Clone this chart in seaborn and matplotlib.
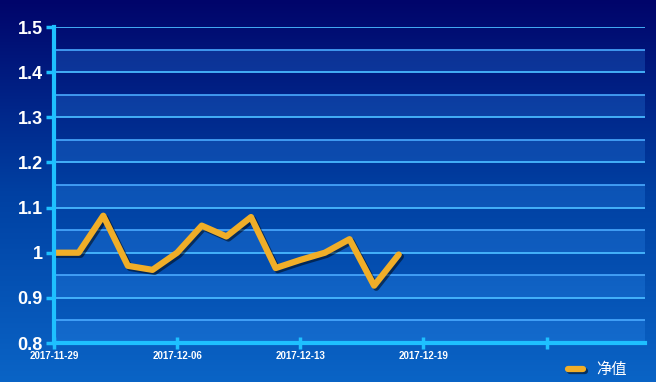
import numpy as np
import pandas as pd
import seaborn as sns
import matplotlib.pyplot as plt
import matplotlib.patheffects as pe
from matplotlib.colors import LinearSegmentedColormap

# data
day_index = [0, 1, 2, 3, 4, 5, 6, 7, 8, 9, 10, 11, 12, 13, 14]
net_value = [1.0, 1.0, 1.082, 0.971, 0.962, 1.0, 1.06, 1.036, 1.079,
             0.966, 0.984, 1.0, 1.03, 0.927, 0.996]
tick_pos = [0, 5, 10, 15, 20]
tick_labels = ['2017-11-29', '2017-12-06', '2017-12-13', '2017-12-19', '']
y_ticks = [0.8, 0.9, 1.0, 1.1, 1.2, 1.3, 1.4, 1.5]
y_tick_labels = ['0.8', '0.9', '1', '1.1', '1.2', '1.3', '1.4', '1.5']

df = pd.DataFrame({'day': day_index, '净值': net_value})

sns.set_style('white')
plt.rcParams['font.family'] = ['Liberation Sans', 'Noto Sans CJK SC', 'DejaVu Sans']

fig = plt.figure(figsize=(6.56, 3.82), dpi=100)

# background gradient
bg = fig.add_axes([0, 0, 1, 1], zorder=0)
cmap = LinearSegmentedColormap.from_list('bg', ['#00046a', '#0040a2', '#0a64c6'])
grad = np.linspace(0, 1, 256).reshape(-1, 1)
bg.imshow(grad, aspect='auto', cmap=cmap, extent=[0, 1, 0, 1], origin='upper')
bg.axis('off')

ax = fig.add_axes([54/656, 1-343/382, (645-54)/656, (343-27)/382], zorder=1)
ax.patch.set_alpha(0)
ax.set_xlim(0, 24)
ax.set_ylim(0.8, 1.5)

# lighter bands between grid lines
for lo in np.arange(0.8, 1.45, 0.1):
    ax.axhspan(lo, lo + 0.05, color='#3a9cff', alpha=0.22, lw=0, zorder=0)
for y in np.arange(0.85, 1.5, 0.1):
    ax.axhline(y, color='#4aaaff', lw=1.2, zorder=1)
for y in y_ticks:
    ax.axhline(y, color='#48b8ff', lw=1.3, zorder=1)

sns.lineplot(data=df, x='day', y='净值', ax=ax, color='#f0ae28', lw=4.5,
             label='净值', zorder=3,
             path_effects=[pe.SimpleLineShadow(offset=(1.5, -1.5), alpha=0.5),
                           pe.Normal()])

for s in ['top', 'right']:
    ax.spines[s].set_visible(False)
for s in ['left', 'bottom']:
    ax.spines[s].set_color('#1ec0ff')
    ax.spines[s].set_linewidth(3)
    ax.spines[s].set_zorder(4)

ax.set_xticks(tick_pos)
ax.set_xticklabels(tick_labels)
ax.set_yticks(y_ticks)
ax.set_yticklabels(y_tick_labels)
ax.tick_params(axis='x', bottom=True, colors='#1ec0ff', length=8, width=2.5,
               direction='inout', labelcolor='white', labelsize=7, pad=2)
ax.tick_params(axis='y', left=True, colors='#1ec0ff', length=6, width=2.5,
               direction='out', labelcolor='white', labelsize=13, pad=2)
for t in ax.get_xticklabels():
    t.set_fontweight('bold')
for t in ax.get_yticklabels():
    t.set_fontweight('bold')
ax.set_xlabel('')
ax.set_ylabel('')

leg = ax.legend(loc='center right', bbox_to_anchor=(0.98, -0.085), frameon=False,
                handlelength=1.0, handletextpad=0.9, fontsize=11, borderaxespad=0)
for txt in leg.get_texts():
    txt.set_color('white')
    txt.set_family(['Noto Sans CJK SC', 'DejaVu Sans'])

fig.savefig('out.png', dpi=100)
